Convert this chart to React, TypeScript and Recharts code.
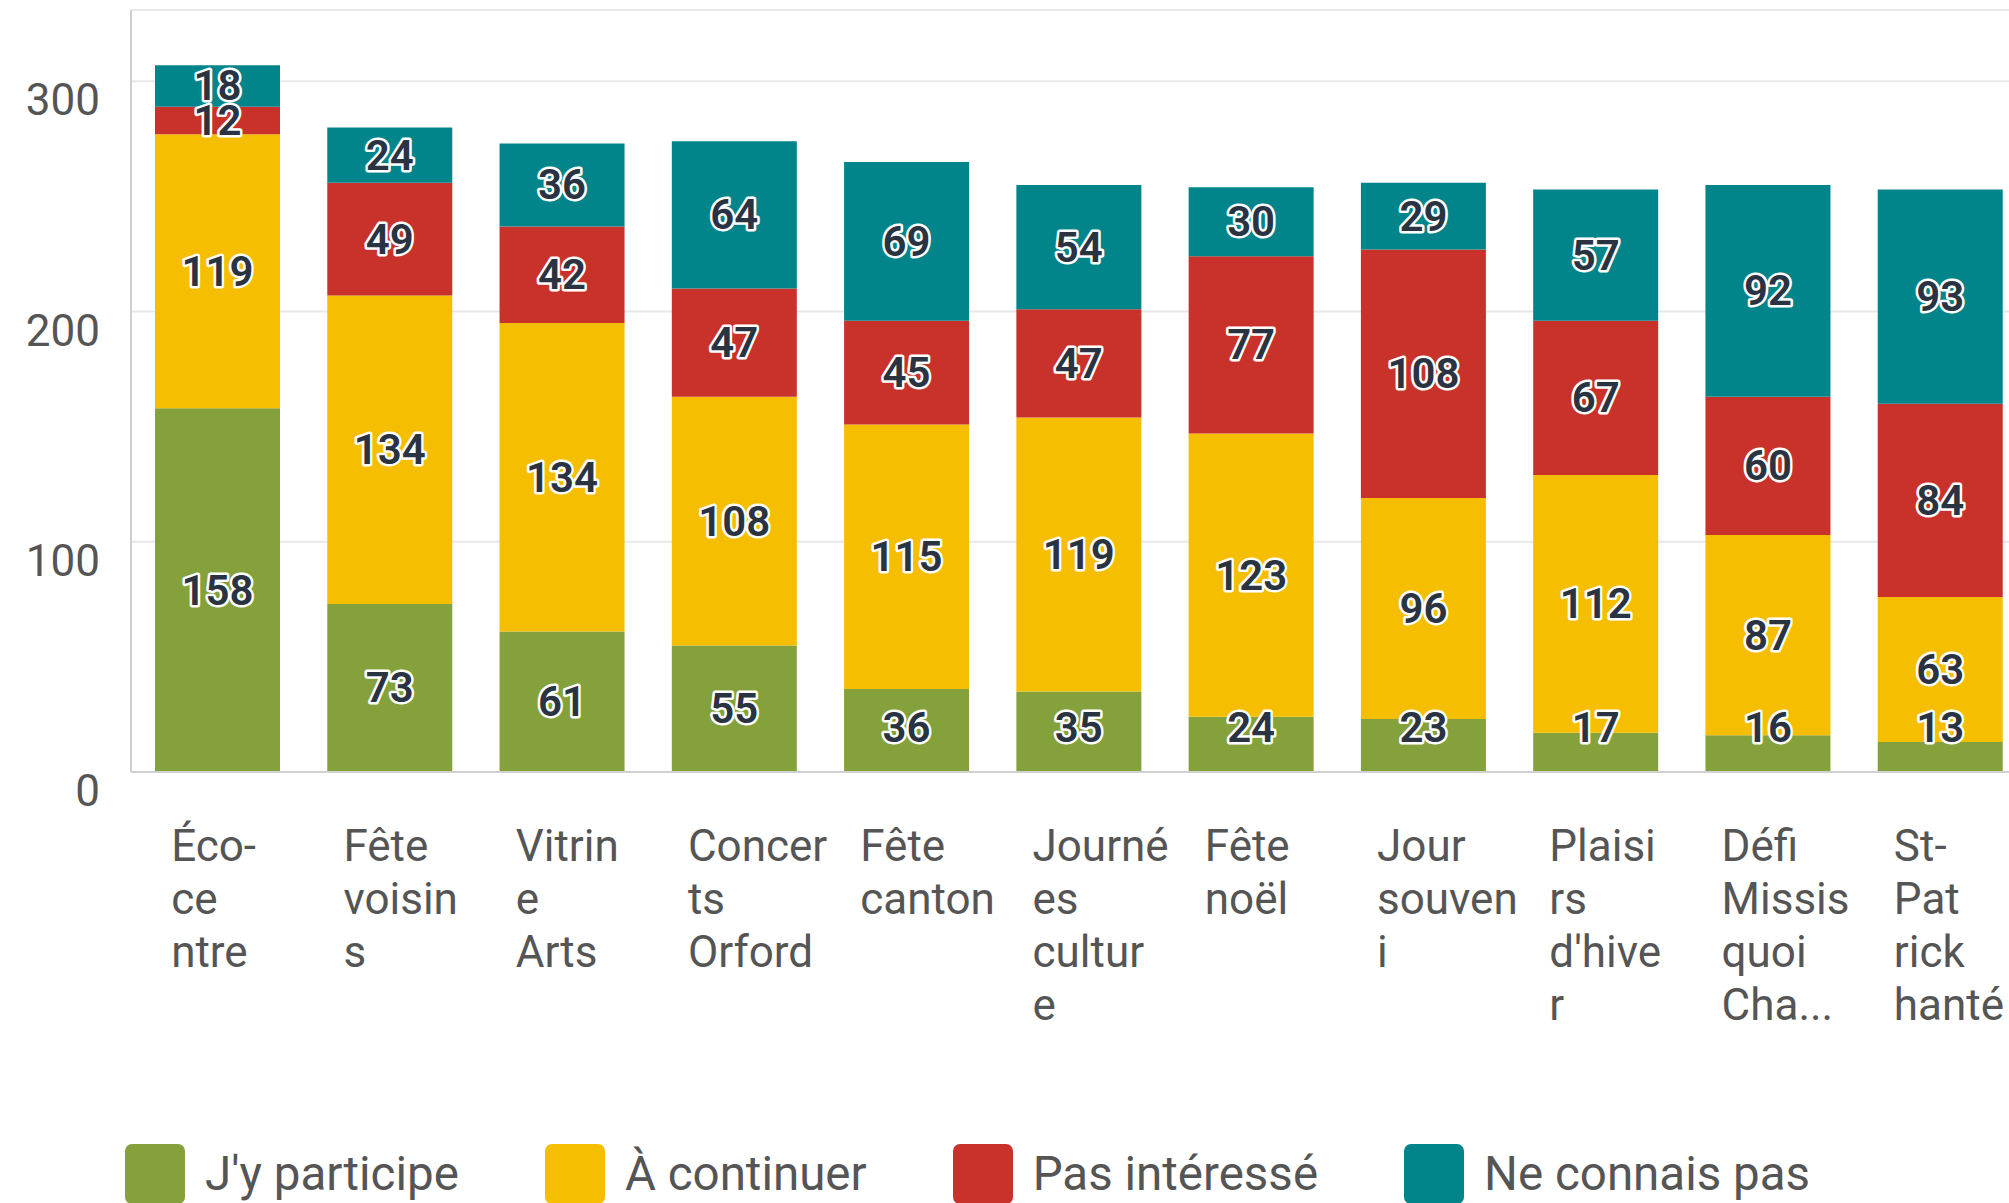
import React from "react";
import {
  BarChart,
  Bar,
  XAxis,
  YAxis,
  CartesianGrid,
  LabelList,
} from "recharts";

const categories = [
  "Éco-centre",
  "Fête voisins",
  "Vitrine Arts",
  "Concerts Orford",
  "Fête canton",
  "Journées culture",
  "Fête noël",
  "Jour souvenir",
  "Plaisirs d'hiver",
  "Défi Missisquoi Cha...",
  "St-Patrick hanté",
];

// wrapped tick text as it appears under each bar
const tickLines = [
  ["Éco-", "ce", "ntre"],
  ["Fête", "voisin", "s"],
  ["Vitrin", "e", "Arts"],
  ["Concer", "ts", "Orford"],
  ["Fête", "canton"],
  ["Journé", "es", "cultur", "e"],
  ["Fête", "noël"],
  ["Jour", "souven", "i"],
  ["Plaisi", "rs", "d'hive", "r"],
  ["Défi", "Missis", "quoi", "Cha..."],
  ["St-", "Pat", "rick", "hanté"],
];

const participe = [158, 73, 61, 55, 36, 35, 24, 23, 17, 16, 13];
const continuer = [119, 134, 134, 108, 115, 119, 123, 96, 112, 87, 63];
const pasInteresse = [12, 49, 42, 47, 45, 47, 77, 108, 67, 60, 84];
const neConnaisPas = [18, 24, 36, 64, 69, 54, 30, 29, 57, 92, 93];

const yTicks = [0, 100, 200, 300];

const series = [
  { key: "participe", name: "J'y participe", color: "#85a13b" },
  { key: "continuer", name: "À continuer", color: "#f6be00" },
  { key: "pasInteresse", name: "Pas intéressé", color: "#c8322b" },
  { key: "neConnaisPas", name: "Ne connais pas", color: "#01858a" },
];

const data = categories.map((name, i) => ({
  name,
  participe: participe[i],
  continuer: continuer[i],
  pasInteresse: pasInteresse[i],
  neConnaisPas: neConnaisPas[i],
}));

const FONT = "Roboto, 'Noto Sans', sans-serif";
const PLOT_BOTTOM = 772;

function YTick({ y, payload }: any) {
  return (
    <text
      x={100}
      y={y + 34}
      textAnchor="end"
      fill="#555"
      fontSize={44}
      fontFamily={FONT}
    >
      {payload.value}
    </text>
  );
}

function XTick({ x, payload }: any) {
  const idx = categories.indexOf(payload.value);
  const lines = tickLines[idx] || [payload.value];
  return (
    <text
      x={x - 46}
      y={PLOT_BOTTOM + 89}
      textAnchor="start"
      fill="#555"
      fontSize={44}
      fontFamily={FONT}
    >
      {lines.map((l, i) => (
        <tspan key={i} x={x - 46} dy={i === 0 ? 0 : 53}>
          {l}
        </tspan>
      ))}
    </text>
  );
}

function SegmentLabel({ x, y, width, height, value }: any) {
  const cx = x + width / 2;
  const cy = Math.min(y + height / 2, PLOT_BOTTOM - 45);
  return (
    <text
      x={cx}
      y={cy}
      textAnchor="middle"
      dominantBaseline="central"
      fontSize={42}
      fontWeight={600}
      fontFamily={FONT}
      fill="#2a3342"
      stroke="#fff"
      strokeWidth={5}
      strokeLinejoin="round"
      paintOrder="stroke"
    >
      {value}
    </text>
  );
}

export default function App() {
  return (
    <div
      style={{
        position: "fixed",
        left: 0,
        top: 0,
        width: 2009,
        height: 1203,
        overflow: "hidden",
        background: "#fff",
      }}
    >
      <BarChart
        width={2026}
        height={1203}
        data={data}
        margin={{ top: 10, right: 0, left: 0, bottom: 0 }}
      >
        <CartesianGrid vertical={false} stroke="#e8e8e8" strokeWidth={2} />
        <XAxis
          dataKey="name"
          height={431}
          interval={0}
          tickLine={false}
          axisLine={{ stroke: "#d0d0d0", strokeWidth: 2 }}
          tick={<XTick />}
        />
        <YAxis
          width={131}
          domain={[0, 331]}
          ticks={yTicks}
          tickLine={false}
          axisLine={{ stroke: "#cfcfcf", strokeWidth: 2 }}
          tick={<YTick />}
        />
        {series.map((s) => (
          <Bar
            key={s.key}
            dataKey={s.key}
            name={s.name}
            stackId="a"
            fill={s.color}
            barSize={125}
            isAnimationActive={false}
          >
            <LabelList dataKey={s.key} content={<SegmentLabel />} />
          </Bar>
        ))}
      </BarChart>
      <div
        style={{
          position: "absolute",
          left: 125,
          top: 1144,
          display: "flex",
          alignItems: "center",
          gap: 86,
          fontFamily: FONT,
          fontSize: 47.5,
          color: "#555",
          whiteSpace: "nowrap",
        }}
      >
        {series.map((s) => (
          <div key={s.key} style={{ display: "flex", alignItems: "center" }}>
            <span
              style={{
                width: 60,
                height: 60,
                borderRadius: 7,
                background: s.color,
                display: "inline-block",
                marginRight: 20,
              }}
            />
            <span>{s.name}</span>
          </div>
        ))}
      </div>
    </div>
  );
}
